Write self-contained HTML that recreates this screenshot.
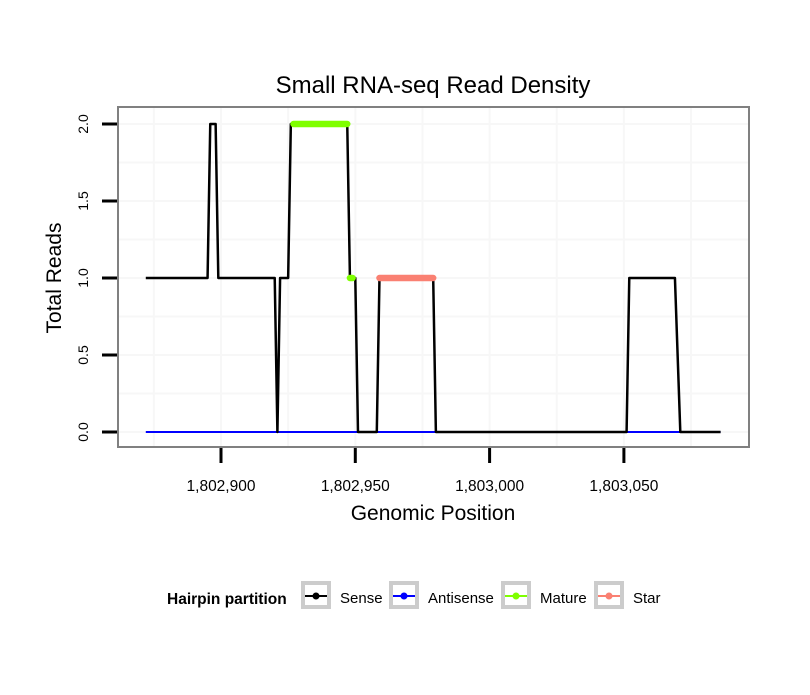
<!DOCTYPE html>
<html><head><meta charset="utf-8"><style>
body{margin:0;background:#fff;font-family:"Liberation Sans",sans-serif}
</style></head><body>
<svg id="chart" width="810" height="690" xmlns="http://www.w3.org/2000/svg" font-family="Liberation Sans, sans-serif">
<rect width="810" height="690" fill="#fff"/>
<text x="433" y="93" text-anchor="middle" font-size="24">Small RNA-seq Read Density</text>
<g id="grid"></g>
<g id="series"></g>
<rect x="118" y="107" width="631" height="340" fill="none" stroke="#808080" stroke-width="2"/>
<g id="axes"></g>
<text x="433" y="520" text-anchor="middle" font-size="21">Genomic Position</text>
<text transform="translate(61,278) rotate(-90)" text-anchor="middle" font-size="21">Total Reads</text>
<g id="legend"></g>
</svg>
<script>
const positions=[1802872,1802873,1802874,1802875,1802876,1802877,1802878,1802879,1802880,1802881,1802882,1802883,1802884,1802885,1802886,1802887,1802888,1802889,1802890,1802891,1802892,1802893,1802894,1802895,1802896,1802897,1802898,1802899,1802900,1802901,1802902,1802903,1802904,1802905,1802906,1802907,1802908,1802909,1802910,1802911,1802912,1802913,1802914,1802915,1802916,1802917,1802918,1802919,1802920,1802921,1802922,1802923,1802924,1802925,1802926,1802927,1802928,1802929,1802930,1802931,1802932,1802933,1802934,1802935,1802936,1802937,1802938,1802939,1802940,1802941,1802942,1802943,1802944,1802945,1802946,1802947,1802948,1802949,1802950,1802951,1802952,1802953,1802954,1802955,1802956,1802957,1802958,1802959,1802960,1802961,1802962,1802963,1802964,1802965,1802966,1802967,1802968,1802969,1802970,1802971,1802972,1802973,1802974,1802975,1802976,1802977,1802978,1802979,1802980];
const senseValues=[1,1,1,1,1,1,1,1,1,1,1,1,1,1,1,1,1,1,1,1,1,1,1,1,2,2,2,1,1,1,1,1,1,1,1,1,1,1,1,1,1,1,1,1,1,1,1,1,1,0,1,1,1,1,2,2,2,2,2,2,2,2,2,2,2,2,2,2,2,2,2,2,2,2,2,2,1,1,1,0,0,0,0,0,0,0,0,1,1,1,1,1,1,1,1,1,1,1,1,1,1,1,1,1,1,1,1,1,0];
const tailPositions=[1803051,1803052,1803069,1803071,1803086];
const tailValues=[0,1,1,0,0];
const antisensePositions=[1802872,1803086];
const antisenseValues=[0,0];
const maturePositions=[1802927,1802947,1802948,1802949];
const matureValues=[2,2,1,1];
const starPositions=[1802959,1802979];
const starValues=[1,1];
const xTicks=[1802900,1802950,1803000,1803050];
const xTickLabels=["1,802,900","1,802,950","1,803,000","1,803,050"];
const yTicks=[0,0.5,1,1.5,2];
const yTickLabels=["0.0","0.5","1.0","1.5","2.0"];
const legendLabels=["Sense","Antisense","Mature","Star"];
const legendColors=["#000","#0000ff","#7fff00","#fa8072"];

const X=v=>221+(v-1802900)*134.3/50;
const Y=v=>432-v*154;
const NS="http://www.w3.org/2000/svg";
function mk(tag,attrs,parent){const e=document.createElementNS(NS,tag);for(const k in attrs)e.setAttribute(k,attrs[k]);document.getElementById(parent).appendChild(e);return e;}
for(let g=1802875;g<=1803075;g+=25){const l=mk('line',{x1:X(g),x2:X(g),y1:108,y2:446,stroke:'#f7f7f7','stroke-width':2},'grid');

}
for(let g=0;g<=2;g+=0.25){const l=mk('line',{x1:119,x2:748,y1:Y(g),y2:Y(g),stroke:'#f7f7f7','stroke-width':2},'grid');

}
function line(xs,ys,color,w,name,cap){const pts=xs.map((x,i)=>X(x)+','+Y(ys[i])).join(' ');const p=mk('polyline',{points:pts,fill:'none',stroke:color,'stroke-width':w,'stroke-linejoin':'round','stroke-linecap':cap||'butt'},'series');

}
line(antisensePositions,antisenseValues,'#0000ff',2,'antisense-line');
line(positions.concat(tailPositions),senseValues.concat(tailValues),'#000',2.5,'sense-line');
line(maturePositions.slice(0,2),matureValues.slice(0,2),'#7fff00',6.5,'mature-line-top','round');
line(maturePositions.slice(2),matureValues.slice(2),'#7fff00',6.5,'mature-line-low','round');
line(starPositions,starValues,'#fa8072',6.5,'star-line','round');
xTicks.forEach((t,i)=>{const l=mk('line',{x1:X(t),x2:X(t),y1:448,y2:463,stroke:'#000','stroke-width':3},'axes');


const tx=mk('text',{x:X(t),y:491,'text-anchor':'middle','font-size':15.5},'axes');tx.textContent=xTickLabels[i];

});
yTicks.forEach((t,i)=>{const l=mk('line',{x1:102,x2:117,y1:Y(t),y2:Y(t),stroke:'#000','stroke-width':3},'axes');


const tx=mk('text',{transform:`translate(88,${Y(t)}) rotate(-90)`,'text-anchor':'middle','font-size':14},'axes');tx.textContent=yTickLabels[i];

});
const lt=mk('text',{x:167,y:604,'font-size':15.5,'font-weight':'bold'},'legend');lt.textContent='Hairpin partition';


const boxX=[303,391,503,596];
legendLabels.forEach((lab,i)=>{const x=boxX[i];
const b=mk('rect',{x:x,y:583,width:26,height:24,fill:'#fff',stroke:'#cccccc','stroke-width':4},'legend');


const l=mk('line',{x1:x+2,x2:x+24,y1:596,y2:596,stroke:legendColors[i],'stroke-width':2},'legend');


const c=mk('circle',{cx:x+13,cy:596,r:3.5,fill:legendColors[i]},'legend');


const t=mk('text',{x:x+37,y:603,'font-size':15},'legend');t.textContent=lab;

});
</script>
</body></html>
